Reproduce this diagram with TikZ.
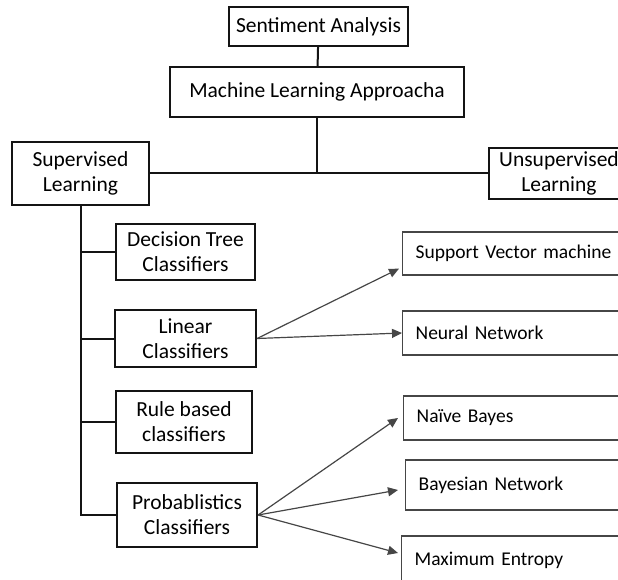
\documentclass[tikz,border=0pt]{standalone}
\usepackage{fontspec}
\setmainfont{Carlito}
\usepackage{tikz}
\usetikzlibrary{arrows,arrows.meta,shapes,positioning}
\usepackage{xcolor}
\definecolor{mlblack}{RGB}{20,20,20}
\definecolor{mlgray}{RGB}{70,70,70}
\tikzstyle{link} = [line width=2pt, color=mlblack]
\tikzstyle{arrow} = [line width=1.2pt, color=mlgray, -{Triangle[length=10pt,width=9pt]}]
\tikzstyle{mainbox} = [rectangle, draw=mlblack, line width=2.2pt, align=center, inner sep=1pt, font=\fontsize{21.5}{25}\selectfont]
\tikzstyle{leafbox} = [rectangle, draw=mlgray, line width=1.3pt, anchor=west, text width=260pt, align=left, inner xsep=13pt, font=\fontsize{19.5}{24}\selectfont]

\begin{document}
\begin{tikzpicture}[x=1pt, y=-1pt]
    \useasboundingbox (0,0) rectangle (618,580);
    \clip (0,0) rectangle (618,580);

    % Top of the tree
    \node[mainbox, minimum width=179pt, minimum height=39pt] (sa) at (318.5,26.5) {Sentiment Analysis};
    \node[mainbox, minimum width=294pt, minimum height=50pt] (mla) at (317,92) {Machine Learning Approacha};
    \node[mainbox, minimum width=137pt, minimum height=63pt] (sup) at (80.5,173.5) {Supervised\\Learning};
    \node[mainbox, minimum width=140pt, minimum height=51pt, text width=125pt] (unsup) at (559,173.5) {Unsupervised\\Learning};

    % Classifier families
    \node[mainbox, minimum width=139pt, minimum height=56pt] (dt) at (185.5,252) {Decision Tree\\Classifiers};
    \node[mainbox, minimum width=141pt, minimum height=57pt] (lin) at (185.5,338.5) {Linear\\Classifiers};
    \node[mainbox, minimum width=136pt, minimum height=62pt] (rule) at (184,422) {Rule based\\classifiers};
    \node[mainbox, minimum width=140pt, minimum height=64pt] (prob) at (187,515) {Probablistics\\Classifiers};

    % Methods
    \node[leafbox, minimum height=43pt] (svm) at (402,253.5) {Support Vector machine};
    \node[leafbox, minimum height=44pt] (nn) at (402,333) {Neural Network};
    \node[leafbox, minimum height=44pt] (nb) at (403,418) {Naïve Bayes};
    \node[leafbox, minimum height=50pt] (bn) at (405,485) {Bayesian Network};
    \node[leafbox, minimum height=48pt] (me) at (401,560) {Maximum Entropy};

    % Tree lines
    \coordinate (split) at (mla.south |- sup.east);
    \coordinate (trunk) at (sup.south |- prob.west);
    \draw[link] (sa) -- (mla);
    \draw[link] (mla) -- (split);
    \draw[link] (sup) -- (unsup);
    \draw[link] (sup.south) -- (trunk) -- (prob.west);
    \draw[link] (sup.south |- dt.west) -- (dt.west);
    \draw[link] (sup.south |- lin.west) -- (lin.west);
    \draw[link] (sup.south |- rule.west) -- (rule.west);

    % Arrows
    \draw[arrow] (lin.east) -- ([xshift=-3pt, yshift=7pt]svm.south west);
    \draw[arrow] (lin.east) -- (nn.west);
    \draw[arrow] (prob.east) -- ([xshift=-5pt]nb.west);
    \draw[arrow] (prob.east) -- ([xshift=-7pt, yshift=-5pt]bn.west);
    \draw[arrow] (prob.east) -- ([xshift=-3pt, yshift=7pt]me.west);
\end{tikzpicture}
\end{document}
